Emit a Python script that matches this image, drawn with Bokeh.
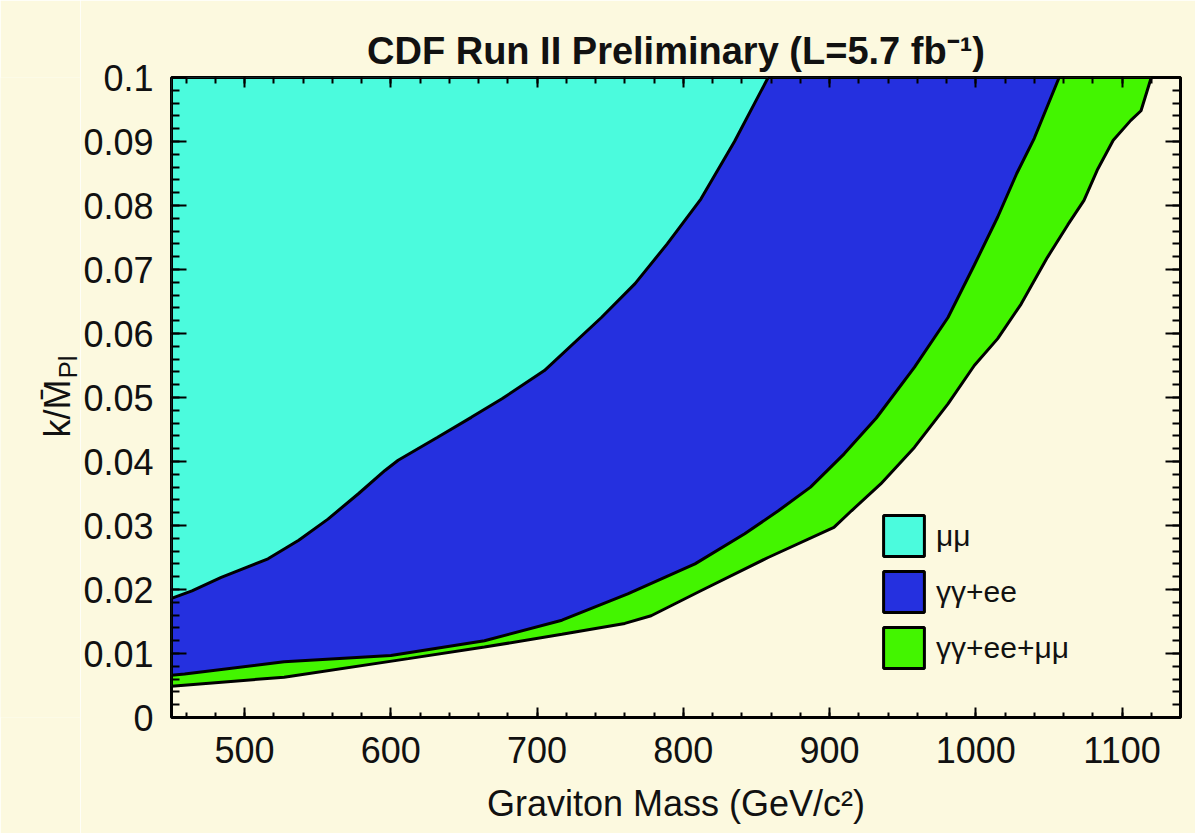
from bokeh.plotting import figure
from bokeh.layouts import row
from bokeh.models import (Range1d, FixedTicker, LinearAxis, Label, Legend, LegendItem,
                          CustomJSTickFormatter)
from bokeh.embed import file_html
from bokeh.resources import INLINE

# ---------------- data ----------------
# mu mu excluded region boundary
mass_mumu = [450, 464, 484, 516, 537, 557, 578, 596, 605, 632, 655, 676, 705, 744, 767, 789, 812, 835, 858]
k_mumu = [0.0186, 0.0198, 0.0219, 0.0248, 0.0277, 0.0310, 0.0350, 0.0386, 0.0402, 0.0438, 0.0469,
          0.0498, 0.0542, 0.0625, 0.0678, 0.0740, 0.0810, 0.0900, 0.1000]
# gamma gamma + ee boundary
mass_ggee = [450, 459, 527, 600, 664, 717, 762, 808, 842, 865, 887, 910, 932, 958, 981, 999, 1015, 1028, 1040, 1057]
k_ggee = [0.0066, 0.0068, 0.0087, 0.0097, 0.0120, 0.0152, 0.0193, 0.0240, 0.0287, 0.0323, 0.0360,
          0.0412, 0.0468, 0.0547, 0.0625, 0.0707, 0.0782, 0.0850, 0.0905, 0.1000]
# gamma gamma + ee + mu mu boundary
mass_all = [450, 527, 612, 664, 717, 760, 778, 812, 858, 903, 915, 935, 958, 981, 999, 1015, 1031,
            1049, 1063, 1074, 1083, 1094, 1106, 1113, 1120]
k_all = [0.0049, 0.0063, 0.0092, 0.0110, 0.0130, 0.0147, 0.0159, 0.0198, 0.0250, 0.0297, 0.0323,
         0.0365, 0.0422, 0.0490, 0.0550, 0.0592, 0.0646, 0.0719, 0.0770, 0.0808, 0.0855, 0.0902,
         0.0933, 0.0948, 0.1000]

labels = ["μμ", "γγ+ee", "γγ+ee+μμ"]
x_ticks = [500, 600, 700, 800, 900, 1000, 1100]
y_ticks = [0.0, 0.01, 0.02, 0.03, 0.04, 0.05, 0.06, 0.07, 0.08, 0.09, 0.1]
X_MIN, X_MAX = 450, 1140
Y_MIN, Y_MAX = 0.0, 0.1

# ---------------- styling ----------------
CREAM = "#FCF9DF"
CYAN = "#4BFBDD"
BLUE = "#2530DF"
GREEN = "#43F500"
FONT = "Liberation Sans"
W, H = 1195, 833
SIDE_W = 80          # narrow strip holding the vertical y-axis title
FRAME_TOP, FRAME_BOTTOM = 77, 717
FRAME_H = FRAME_BOTTOM - FRAME_TOP

p = figure(width=W - SIDE_W, height=H, x_range=Range1d(X_MIN, X_MAX), y_range=Range1d(Y_MIN, Y_MAX),
           output_backend="svg", toolbar_location=None,
           min_border_left=170 - SIDE_W, min_border_right=15,
           min_border_top=FRAME_TOP, min_border_bottom=H - FRAME_BOTTOM,
           background_fill_color=CREAM, border_fill_color=CREAM)
p.outline_line_color = "black"
p.outline_line_width = 3
p.grid.visible = False


def region(xs, ys):
    return [X_MIN] + list(xs) + [X_MIN], [Y_MAX] + list(ys) + [Y_MAX]


gx, gy = region(mass_all, k_all)
bx, by = region(mass_ggee, k_ggee)
cx, cy = region(mass_mumu, k_mumu)
r_green = p.patch(gx, gy, fill_color=GREEN, line_color="black", line_width=3)
r_blue = p.patch(bx, by, fill_color=BLUE, line_color="black", line_width=3)
r_cyan = p.patch(cx, cy, fill_color=CYAN, line_color="black", line_width=3)

x_minor = list(range(460, X_MAX + 1, 20))
y_minor = [i * 0.002 for i in range(0, 51)]
fmt = CustomJSTickFormatter(code="return tick.toFixed(2).replace(/0+$/,'').replace(/\\.$/,'');")


def style_axis(ax, major_in, minor_in, show_labels):
    ax.axis_line_color = None
    ax.major_tick_in = major_in
    ax.major_tick_out = 0
    ax.minor_tick_in = minor_in
    ax.minor_tick_out = 0
    ax.major_tick_line_color = "black"
    ax.major_tick_line_width = 2
    ax.minor_tick_line_color = "black"
    ax.minor_tick_line_width = 2
    if show_labels:
        ax.major_label_text_font = FONT
        ax.major_label_text_font_size = "36px"
        ax.major_label_text_color = "#111111"
    else:
        ax.major_label_text_font_size = "0px"
        ax.major_label_standoff = 0


xb = p.xaxis[0]
xb.ticker = FixedTicker(ticks=x_ticks, minor_ticks=x_minor)
style_axis(xb, 10, 5, True)
xb.major_label_standoff = 19
xb.axis_label = "Graviton Mass (GeV/c²)"
xb.axis_label_text_font = FONT
xb.axis_label_text_font_size = "36px"
xb.axis_label_text_font_style = "normal"
xb.axis_label_text_color = "#111111"
xb.axis_label_standoff = 17

yl = p.yaxis[0]
yl.ticker = FixedTicker(ticks=y_ticks, minor_ticks=y_minor)
yl.formatter = fmt
style_axis(yl, 15, 8, True)
yl.major_label_standoff = 18

xt = LinearAxis(ticker=FixedTicker(ticks=x_ticks, minor_ticks=x_minor))
style_axis(xt, 10, 6, False)
p.add_layout(xt, "above")
yr = LinearAxis(ticker=FixedTicker(ticks=y_ticks, minor_ticks=y_minor))
style_axis(yr, 15, 8, False)
p.add_layout(yr, "right")

p.title.text = "CDF Run II Preliminary (L=5.7 fb⁻¹)"
p.title.text_font = FONT
p.title.text_font_size = "38px"
p.title.text_font_style = "bold"
p.title.align = "center"
p.title.text_color = "#111111"
p.title.standoff = 12

legend = Legend(items=[LegendItem(label=labels[0], renderers=[r_cyan]),
                       LegendItem(label=labels[1], renderers=[r_blue]),
                       LegendItem(label=labels[2], renderers=[r_green])],
                location=(707, 44), glyph_width=51, glyph_height=51, spacing=5,
                padding=0, margin=0, label_standoff=7, border_line_color=None,
                background_fill_alpha=0, label_text_font=FONT, label_text_font_size="30px",
                label_text_color="#111111")
p.add_layout(legend, "center")

# narrow strip on the left carrying the y-axis title  k / M-bar_Pl
# (its frame is aligned with the main frame, so its y range is in frame pixels)
side = figure(width=SIDE_W, height=H, x_range=Range1d(0, SIDE_W), y_range=Range1d(0, FRAME_H),
              output_backend="svg", toolbar_location=None, min_border=0,
              x_axis_type=None, y_axis_type=None,
              background_fill_color=CREAM, border_fill_color=CREAM)
side.outline_line_color = None
side.grid.visible = False
side.add_layout(Label(x=57, y=FRAME_BOTTOM - 437, text="k/M̄",
                      angle=90, angle_units="deg", text_font=FONT, text_font_size="36px",
                      text_color="#111111", text_align="left", text_baseline="alphabetic"))
side.add_layout(Label(x=67, y=FRAME_BOTTOM - 378, text="Pl",
                      angle=90, angle_units="deg", text_font=FONT, text_font_size="26px",
                      text_color="#111111", text_align="left", text_baseline="alphabetic"))

layout = row(side, p, spacing=0)
open("out.html", "w").write(file_html(layout, INLINE))
